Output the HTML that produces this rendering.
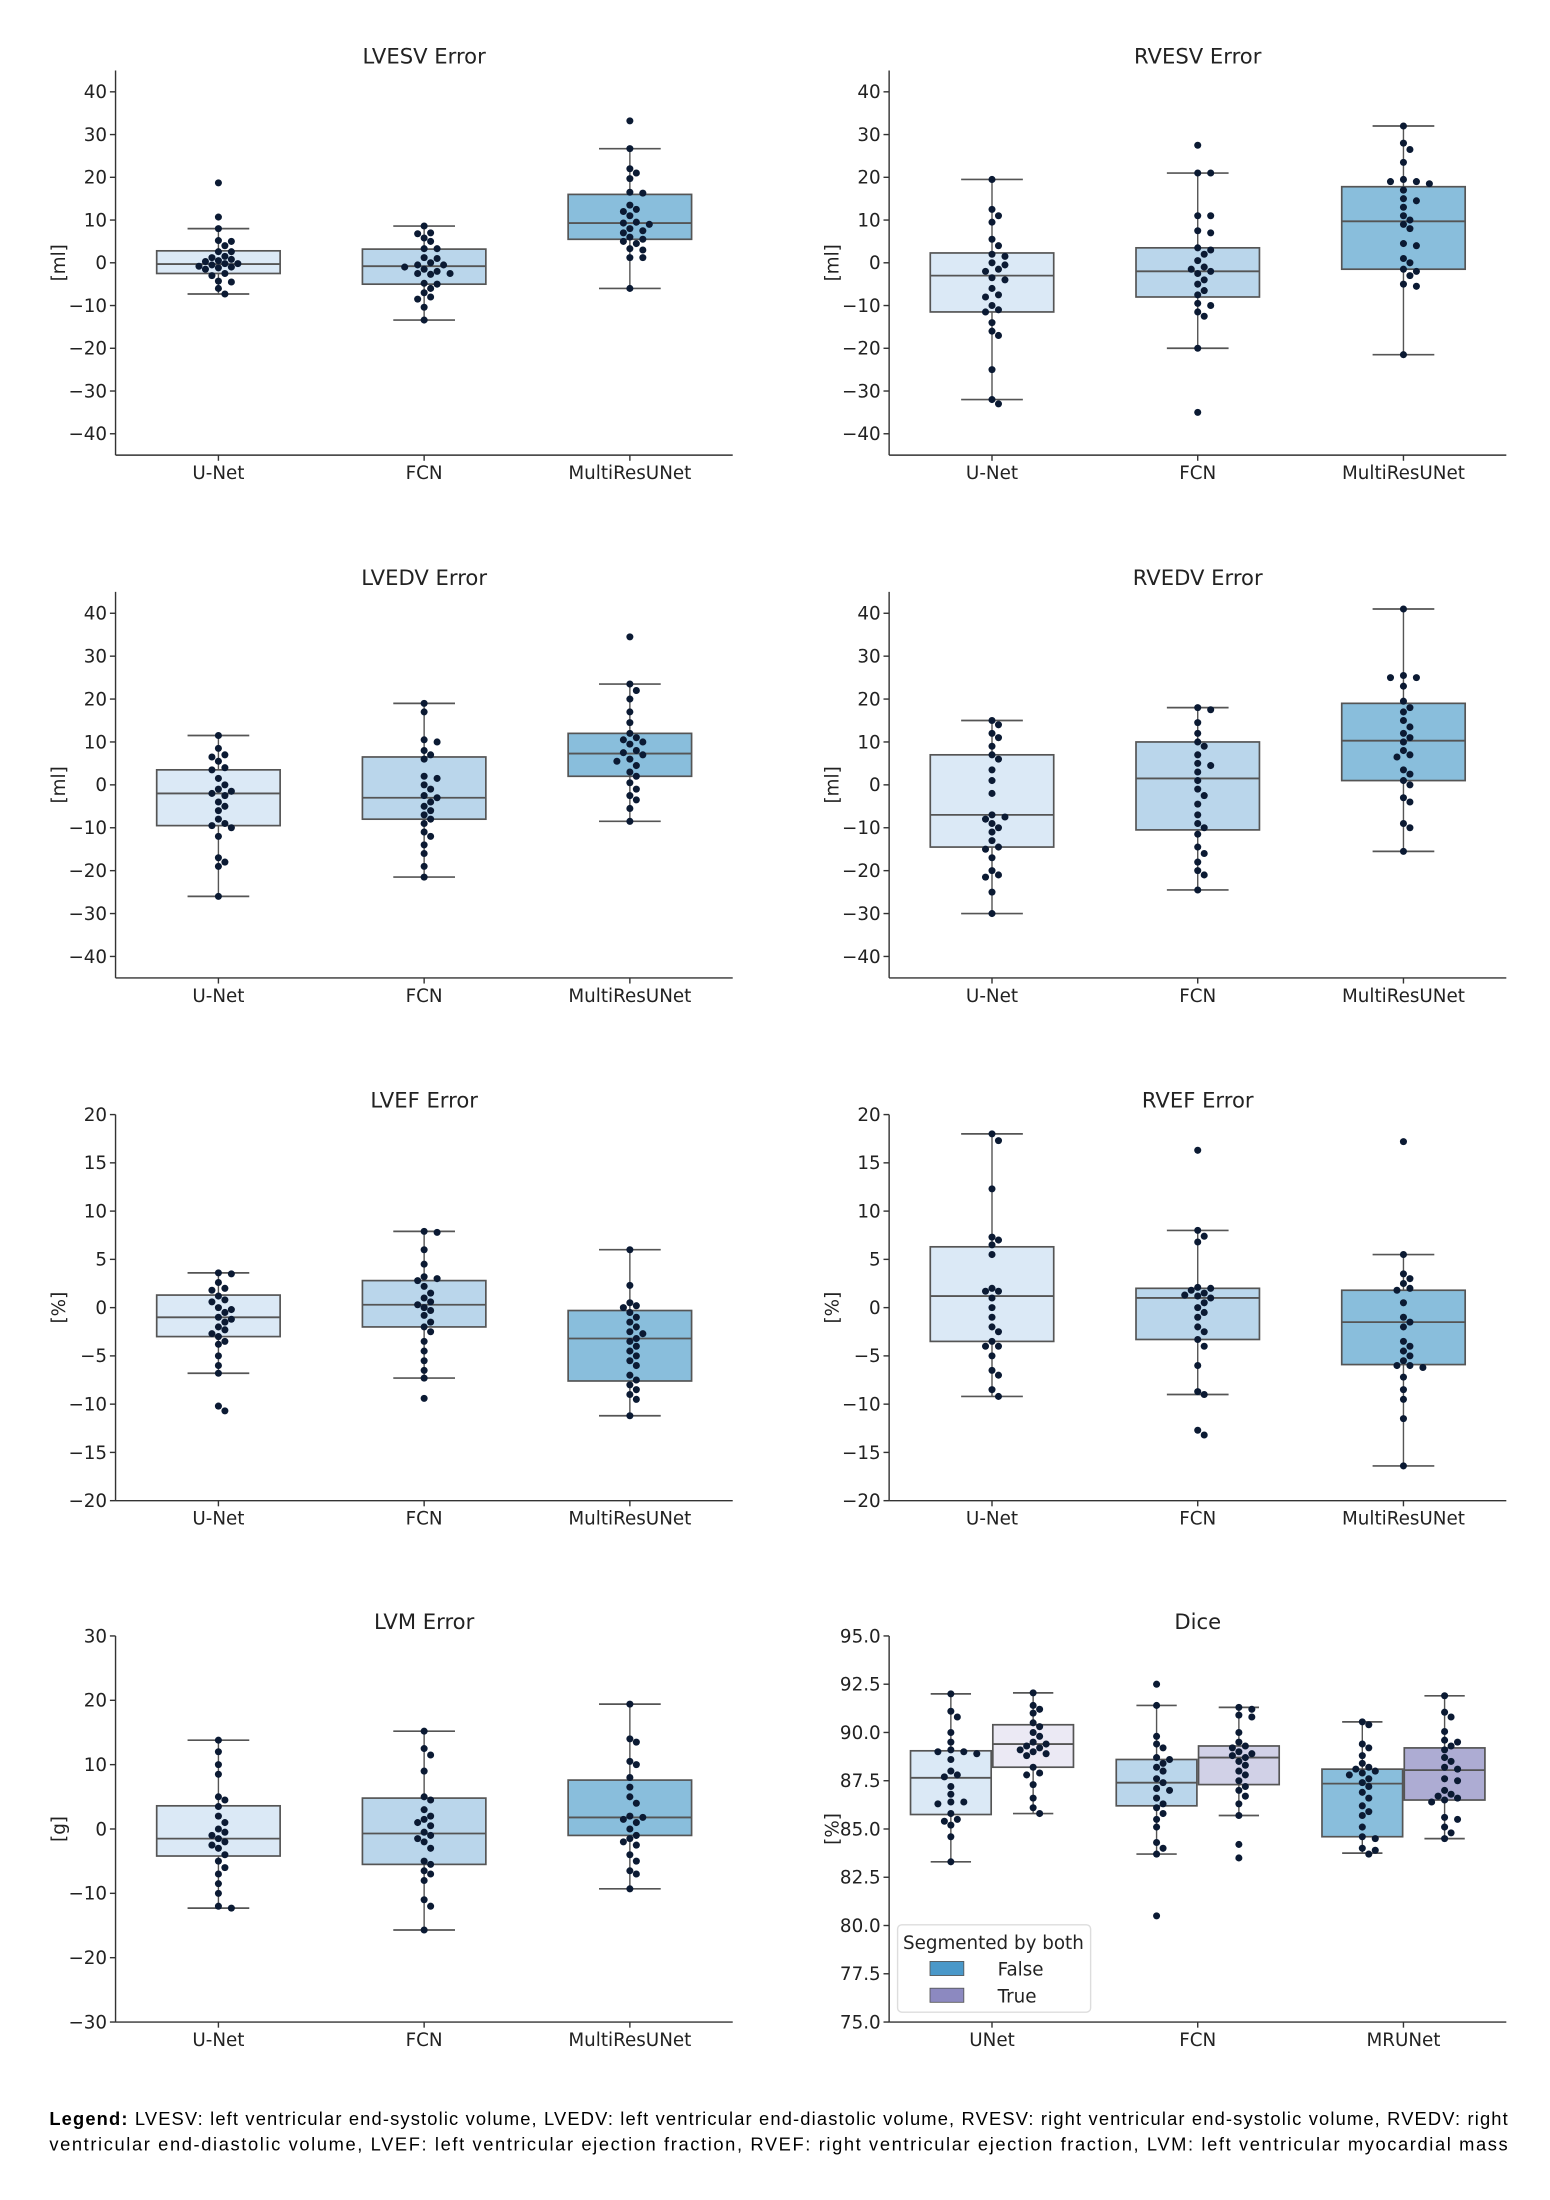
<!DOCTYPE html>
<html><head><meta charset="utf-8"><style>
html,body{margin:0;padding:0;background:#fff;}
svg{display:block;font-family:"DejaVu Sans","Liberation Sans",sans-serif;}
</style></head><body>
<svg id="fig" width="1550" height="2200" viewBox="0 0 1100 1561.3" xmlns="http://www.w3.org/2000/svg">
<rect width="1100" height="1561.3" fill="#fff"/>
<g id="charts"></g>
<text x="35" y="1508" font-size="13" font-family="Liberation Sans, sans-serif" textLength="1035" lengthAdjust="spacing"><tspan font-weight="bold">Legend:</tspan> LVESV: left ventricular end-systolic volume, LVEDV: left ventricular end-diastolic volume, RVESV: right ventricular end-systolic volume, RVEDV: right</text>
<text x="35" y="1526" font-size="13" font-family="Liberation Sans, sans-serif" textLength="1035" lengthAdjust="spacing">ventricular end-diastolic volume, LVEF: left ventricular ejection fraction, RVEF: right ventricular ejection fraction, LVM: left ventricular myocardial mass</text>
</svg>
<script>
const NS="http://www.w3.org/2000/svg";
const cats=["U-Net","FCN","MultiResUNet"];
const diceCats=["UNet","FCN","MRUNet"];
const hues=["False","True"];
// box stats: [q1, median, q3, whiskerLow, whiskerHigh]
const lvesvBox=[[-2.5,-0.3,2.8,-7.3,8],[-5,-0.8,3.2,-13.4,8.6],[5.5,9.3,16,-6,26.7]];
const lvesvPts=[[18.7,10.7,8,5,5.2,4,2.6,2.6,1.2,0.8,0.3,-0.2,-0.5,-0.8,-1,-1.2,-1.5,-2.5,-3,-4.3,-4.5,-6,-7.3,1.5,-0.2,0.5],
[8.6,7,6.8,5.8,5,3.3,3.3,1.2,1,-0.5,-0.5,-1,-1.5,-2,-2.5,-2.5,-2.7,-4.8,-5,-6,-7,-8,-8.5,-10.4,-13.4,0],
[33.2,26.7,22,21,19.7,16.5,16.3,13.5,12.5,12,11,9.5,9.3,9,8,7.5,7,6,5.5,5,4.5,3.3,3,1.2,1.2,-6]];
const rvesvBox=[[-11.5,-3,2.3,-32,19.5],[-8,-2,3.5,-20,21],[-1.5,9.7,17.8,-21.5,32]];
const rvesvPts=[[19.5,12.5,11,9.5,5.5,4,2,1.5,0,-0.5,-2,-3.5,-4,-7.5,-8,-10,-11,-11.5,-14,-16,-17,-25,-32,-33,-1.5,-6],
[27.5,21,21,11,11,7.5,7,3.5,3,2,-1,-2,-2.5,-4,-5,-6.5,-7.5,-9.5,-10,-11.5,-12.5,-20,-35,0.5,-1.5],
[32,28,26.5,23.5,19.5,19,18.5,17,15,14.5,13,11,10,9,8,4.5,4,1,0,-1.5,-2,-3,-5,-5.5,-21.5,19]];
const lvedvBox=[[-9.5,-2,3.5,-26,11.5],[-8,-3,6.5,-21.5,19],[2,7.3,12,-8.5,23.5]];
const lvedvPts=[[11.5,8.5,7,6.5,5.5,4,3.5,1.5,0,-1,-1.5,-2,-2.5,-4,-5,-6,-8,-9,-9.5,-10,-12,-17,-18,-19,-26],
[19,17,10.5,10,8,7,6,2,1.5,0,-1,-3,-4,-5,-6,-8,-9,-11,-12,-14,-16,-19,-21.5,-2.5,-7],
[34.5,23.5,22,20,17,14.5,12,11,10.5,10,9.5,8,7.5,7,5.5,4.5,3,2,0.5,-1,-2.5,-3.5,-5.5,-8.5,6]];
const rvedvBox=[[-14.5,-7,7,-30,15],[-10.5,1.5,10,-24.5,18],[1,10.3,19,-15.5,41]];
const rvedvPts=[[15,14,12,11,9,7,6,3.5,1,-2,-7,-7.5,-8,-9,-11,-13,-14.5,-15,-17,-20,-21,-21.5,-25,-30,-10],
[18,17.5,14.5,12,10,9,7,4.5,3,1,-1,-4.5,-7,-9,-10,-11.5,-14.5,-16,-18,-20,-21,-24.5,-2.5,5],
[41,25.5,25,25,23,19.5,18,15,13.5,12,11,10,8,7,6.5,3.5,2.5,1,0,-3,-4,-9,-10,-15.5,17]];
const lvefBox=[[-3,-1,1.3,-6.8,3.6],[-2,0.3,2.8,-7.3,7.9],[-7.6,-3.2,-0.3,-11.2,6]];
const lvefPts=[[3.6,3.5,2.6,2,1.8,1.2,0.6,0,-0.5,-1,-1.5,-2,-2.3,-2.7,-3,-3.5,-3.8,-5,-6,-6.8,-10.2,-10.7,0.8,-0.2,-1.2],
[7.9,7.8,6,4.5,3.2,3,2.8,2.2,1.5,1,0.6,0,-0.8,-1.5,-2,-2.5,-3.5,-4.5,-5.5,-6.5,-7.3,-9.4,0.3,-0.3],
[6,2.3,0.5,0.2,0,-0.5,-1.5,-2,-2.5,-2.7,-3.2,-3.5,-4,-4.5,-5,-5.5,-6,-7,-7.5,-8,-8.5,-9,-9.5,-11.2,-1]];
const rvefBox=[[-3.5,1.2,6.3,-9.2,18],[-3.3,1,2,-9,8],[-5.9,-1.5,1.8,-16.4,5.5]];
const rvefPts=[[18,17.3,12.3,7.3,7,6.5,5.5,2,1.7,1.7,1,0,-1,-2,-2.5,-3.5,-4,-5,-6.5,-7,-8.5,-9.2,-4],
[16.3,8,7.4,6.8,2.1,2,1.8,1.5,1.2,1,0.5,0,-0.5,-1,-2,-3.3,-4,-6,-8.7,-9,-12.7,-13.2,-2.5,1.3],
[17.2,5.5,3.5,3,2.5,2,1.8,0.5,-1,-1.5,-2,-3.5,-4,-5,-5.5,-6,-6,-6.2,-7.2,-8.5,-9.5,-11.5,-16.4,-4.5]];
const lvmBox=[[-4.2,-1.5,3.6,-12.3,13.8],[-5.5,-0.7,4.8,-15.7,15.2],[-1,1.8,7.6,-9.3,19.4]];
const lvmPts=[[13.8,12,10,8.5,5,4.5,3.5,2,1,0,-1,-1.5,-2,-2.5,-3,-4,-5,-6,-7,-8.5,-10,-12,-12.3,-0.5],
[15.2,12.5,11.5,9,5,4.5,2,1.5,1,0.5,-1,-1.5,-2,-3,-5,-5.5,-6.5,-7,-8,-11,-12,-15.7,-0.5,3],
[19.4,14,13.5,10.5,10,8,6.5,4,2,1.8,1.5,1,0,-1,-1.5,-2,-2.5,-4,-5,-6.5,-7,-9.3,5]];
const diceBox=[[[85.75,87.65,89.05,83.3,92],[88.2,89.4,90.4,85.8,92.05]],
[[86.2,87.4,88.6,83.7,91.4],[87.3,88.7,89.3,85.7,91.3]],
[[84.6,87.35,88.1,83.75,90.55],[86.5,88.05,89.2,84.5,91.9]]];
const dicePts=[[[92,91.1,90.8,90,89.5,89.1,89,88.9,88.6,88,87.8,87.2,86.8,86.4,86.4,86.3,85.8,85.5,85.4,85.2,84.6,83.3,87.7,89],
[92.05,91.4,91.2,91,90.5,90.3,90,89.8,89.5,89.4,89.3,89.2,89,88.9,88.8,88.2,87.9,87.8,87.3,86.6,86.1,85.8,89.1]],
[[92.5,91.4,89.8,89.4,89.2,88.7,88.6,88.4,88.2,88,87.6,87.4,87.1,87,86.6,86.3,86.1,85.8,85.5,85.1,84.3,84,83.7,80.5],
[91.3,91.2,90.9,90.8,90,89.5,89.3,89.2,89,88.9,88.8,88.7,88.5,88.3,88,87.8,87.5,87.2,87,86.7,86.3,85.7,84.2,83.5]],
[[90.55,90.4,89.4,89.2,88.8,88.4,88.2,88.1,88,87.9,87.8,87.6,87.4,87.2,86.9,86.6,86.2,85.9,85.7,85.1,84.6,84.5,84,83.9,83.7],
[91.9,91.05,90.8,90.05,89.6,89.5,89.3,89.1,88.7,88.5,88.2,88.1,87.6,87.5,87,86.8,86.7,86.6,86.5,86.4,85.6,85.5,85.1,84.8,84.5]]];
const volTicks=[-40,-30,-20,-10,0,10,20,30,40];
const efTicks=[-20,-15,-10,-5,0,5,10,15,20];
const lvmTicks=[-30,-20,-10,0,10,20,30];
const diceTicks=[75,77.5,80,82.5,85,87.5,90,92.5,95];
const boxColors=["#dbe9f6","#bad6eb","#89bedc"];
const trueColors=["#ebe9f4","#d1d1e7","#adacd3"];

const root=document.getElementById('charts');
function mk(tag,attrs,parent){const e=document.createElementNS(NS,tag);for(const k in attrs)e.setAttribute(k,attrs[k]);(parent||root).appendChild(e);return e;}

function swarm(vals,y,cx){
  const d=5.0;const placed=[];const out=[];
  const sorted=vals.slice().sort((a,b)=>b-a);
  for(const v of sorted){const py=y(v);let k=0,px=cx;
    while(true){const off=(k===0?0:Math.ceil(k/2)*d*0.92*(k%2?1:-1));px=cx+off;
      if(!placed.some(p=>Math.hypot(p[0]-px,p[1]-py)<d))break;k++;if(k>40)break;}
    placed.push([px,py]);out.push([px,py]);}
  return out;}

function drawBox(g,cx,w,s,y,fill,name){
  const [q1,med,q3,lo,hi]=s;
  let e=mk('line',{x1:cx,x2:cx,y1:y(hi),y2:y(q3),stroke:'#555','stroke-width':1},g);
  
  e=mk('line',{x1:cx,x2:cx,y1:y(q1),y2:y(lo),stroke:'#555','stroke-width':1},g);
  
  for(const v of [hi,lo]){e=mk('line',{x1:cx-w/4,x2:cx+w/4,y1:y(v),y2:y(v),stroke:'#555','stroke-width':1.2},g);
    }
  e=mk('rect',{x:cx-w/2,y:y(q3),width:w,height:y(q1)-y(q3),fill:fill,stroke:'#555','stroke-width':1.2},g);
  
  e=mk('line',{x1:cx-w/2,x2:cx+w/2,y1:y(med),y2:y(med),stroke:'#555','stroke-width':1.3},g);
  
}
function drawPts(g,vals,y,cx,name){
  for(const [px,py] of swarm(vals,y,cx)){const c=mk('circle',{cx:px,cy:py,r:2.5,fill:'#0b1a33'},g);
    }
}

function axes(opt){
  const {x0,x1,y0,y1,ymin,ymax,ticks,title,ylabel,labels,name,dec}=opt;
  const g=mk('g',{});
  const y=v=>y1-(v-ymin)/(ymax-ymin)*(y1-y0);
  const W=x1-x0;const xc=i=>x0+W*(i+0.5)/labels.length;
  let t=mk('text',{x:(x0+x1)/2,y:y0-5,'text-anchor':'middle','font-size':15,fill:'#222'},g);t.textContent=title;
  
  t=mk('text',{x:0,y:0,'text-anchor':'middle','font-size':13,fill:'#222',transform:`translate(${x0-36},${(y0+y1)/2}) rotate(-90)`},g);t.textContent=ylabel;
  
  for(const v of ticks){const yy=y(v);
    let l=mk('line',{x1:x0-4,x2:x0,y1:yy,y2:yy,stroke:'#333','stroke-width':1},g);
    let tt=mk('text',{x:x0-6,y:yy+4.5,'text-anchor':'end','font-size':13,fill:'#222'},g);
    tt.textContent=dec?v.toFixed(1):(v<0?'\u2212'+(-v):String(v));}
  labels.forEach((lab,i)=>{let l=mk('line',{x1:xc(i),x2:xc(i),y1:y1,y2:y1+4,stroke:'#333','stroke-width':1},g);
    let tt=mk('text',{x:xc(i),y:y1+17,'text-anchor':'middle','font-size':13,fill:'#222'},g);tt.textContent=lab;});
  return {g,y,xc,W};
}
function spines(g,x0,x1,y0,y1){
  let l=mk('line',{x1:x0,x2:x0,y1:y0,y2:y1,stroke:'#333','stroke-width':1},g);
  l=mk('line',{x1:x0,x2:x1,y1:y1,y2:y1,stroke:'#333','stroke-width':1},g);
}
function boxChart(x0,x1,y0,y1,ymin,ymax,ticks,title,ylabel,box,pts,name){
  const a=axes({x0,x1,y0,y1,ymin,ymax,ticks,title,ylabel,labels:cats,name});
  const bw=a.W/3*0.6;
  cats.forEach((c,i)=>{drawBox(a.g,a.xc(i),bw,box[i],a.y,boxColors[i],name+'-'+c.toLowerCase());
    drawPts(a.g,pts[i],a.y,a.xc(i),name+'-'+c.toLowerCase());});
  spines(a.g,x0,x1,y0,y1);
}
const L=[82,520],R=[631,1069];
const rows=[[50,323],[420,694],[791,1065],[1161,1435]];
boxChart(L[0],L[1],rows[0][0],rows[0][1],-45,45,volTicks,'LVESV Error','[ml]',lvesvBox,lvesvPts,'lvesv-chart');
boxChart(R[0],R[1],rows[0][0],rows[0][1],-45,45,volTicks,'RVESV Error','[ml]',rvesvBox,rvesvPts,'rvesv-chart');
boxChart(L[0],L[1],rows[1][0],rows[1][1],-45,45,volTicks,'LVEDV Error','[ml]',lvedvBox,lvedvPts,'lvedv-chart');
boxChart(R[0],R[1],rows[1][0],rows[1][1],-45,45,volTicks,'RVEDV Error','[ml]',rvedvBox,rvedvPts,'rvedv-chart');
boxChart(L[0],L[1],rows[2][0],rows[2][1],-20,20,efTicks,'LVEF Error','[%]',lvefBox,lvefPts,'lvef-chart');
boxChart(R[0],R[1],rows[2][0],rows[2][1],-20,20,efTicks,'RVEF Error','[%]',rvefBox,rvefPts,'rvef-chart');
boxChart(L[0],L[1],rows[3][0],rows[3][1],-30,30,lvmTicks,'LVM Error','[g]',lvmBox,lvmPts,'lvm-chart');
// Dice
(function(){
  const x0=R[0],x1=R[1],y0=rows[3][0],y1=rows[3][1];
  const a=axes({x0,x1,y0,y1,ymin:75,ymax:95,ticks:diceTicks,title:'Dice',ylabel:'[%]',labels:diceCats,name:'dice-chart',dec:true});
  const step=a.W/3;const bw=step*0.4*0.98;
  diceCats.forEach((c,i)=>{hues.forEach((h,j)=>{const cx=a.xc(i)+(j===0?-1:1)*step*0.2;
    drawBox(a.g,cx,bw,diceBox[i][j],a.y,j===0?boxColors[i]:trueColors[i],'dice-'+c.toLowerCase()+'-'+h.toLowerCase());
    drawPts(a.g,dicePts[i][j],a.y,cx,'dice-'+c.toLowerCase()+'-'+h.toLowerCase());});});
  spines(a.g,x0,x1,y0,y1);
  const lg=mk('g',{},a.g);
  mk('rect',{x:637,y:1366,width:137,height:62,rx:3,fill:'#fff','fill-opacity':0.85,stroke:'#ddd','stroke-width':1},lg);
  let t=mk('text',{x:705,y:1383,'text-anchor':'middle','font-size':13,fill:'#222'},lg);t.textContent='Segmented by both';
  
  const lc=['#4a98c9','#8c89c0'];
  hues.forEach((h,j)=>{const yy=1392+j*19;
    const r=mk('rect',{x:660,y:yy,width:24,height:10,fill:lc[j],stroke:'#555','stroke-width':0.6},lg);
    
    const tt=mk('text',{x:708,y:yy+10,'font-size':13,fill:'#222'},lg);tt.textContent=h;
    });
})();
</script>
</body></html>
